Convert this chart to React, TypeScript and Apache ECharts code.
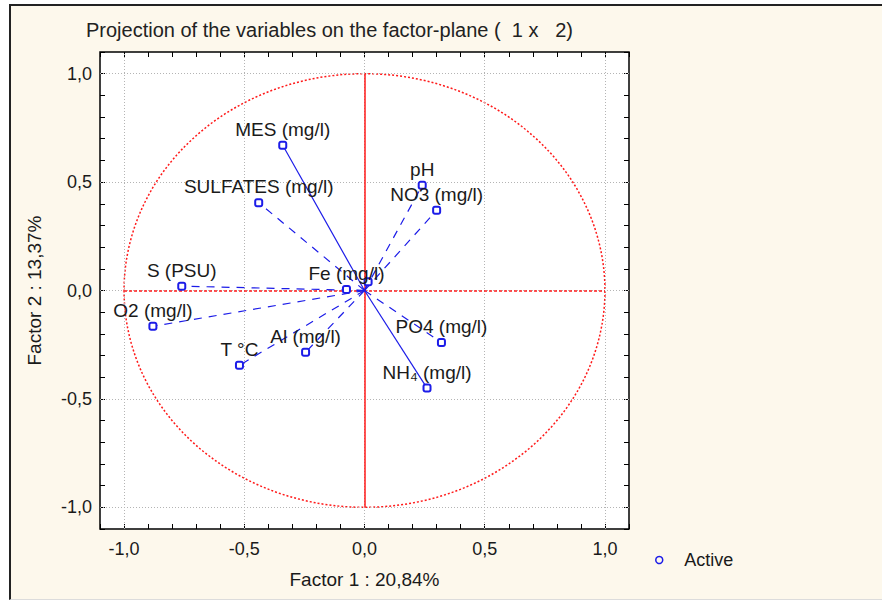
import React, { useEffect, useRef } from 'react';
import * as echarts from 'echarts';

// Variable loadings on factor 1 (x) and factor 2 (y)
const variableNames = [
  'MES (mg/l)',
  'SULFATES (mg/l)',
  'S (PSU)',
  'O2 (mg/l)',
  'T °C',
  'Al (mg/l)',
  'Fe (mg/l)',
  'pH',
  'NO3 (mg/l)',
  'PO4 (mg/l)',
  'NH₄ (mg/l)',
  '',
];
const factor1 = [-0.34, -0.44, -0.76, -0.88, -0.52, -0.245, -0.075, 0.24, 0.3, 0.32, 0.26, 0.015];
const factor2 = [0.67, 0.405, 0.02, -0.165, -0.345, -0.285, 0.005, 0.485, 0.37, -0.24, -0.45, 0.04];
const vectorStyles = [
  'solid', 'dashed', 'dashed', 'dashed', 'dashed', 'dashed',
  'dashed', 'dashed', 'dashed', 'dashed', 'solid', 'solid',
];
const gridTicks = [-1, -0.5, 0, 0.5, 1];
const unitRadius = 1;

const BLUE = '#1c1ce8';
const RED = '#ff1a1a';
const TEXT = '#1a1a1a';
const FONT = '"Liberation Sans", Arial, sans-serif';

function tickLabel(v: number): string {
  const r = Math.round(v * 10);
  if (r % 5 !== 0 || Math.abs(r) > 10) return '';
  return (r / 10).toFixed(1).replace('.', ',');
}

export default function App() {
  const ref = useRef<HTMLDivElement>(null);

  useEffect(() => {
    if (!ref.current) return;
    const chart = echarts.init(ref.current, null, { renderer: 'svg' });

    const vectorSeries = variableNames.map((name, i) => ({
      type: 'line',
      name: 'Active',
      z: 5,
      data: [
        { value: [0, 0], symbol: 'none' },
        {
          value: [factor1[i], factor2[i]],
          label: {
            show: name !== '',
            formatter: name,
            position: 'top',
            distance: 2,
            color: TEXT,
            fontSize: 19,
            fontFamily: FONT,
          },
        },
      ],
      symbol: 'emptyRoundRect',
      symbolSize: 7,
      showSymbol: true,
      itemStyle: { color: BLUE, borderColor: BLUE, borderWidth: 1.5 },
      lineStyle: {
        color: BLUE,
        width: 1.2,
        type: vectorStyles[i] === 'dashed' ? [8, 7] : 'solid',
      },
      emphasis: { disabled: true },
      silent: true,
    }));

    const axisCommon = {
      type: 'value',
      min: -1.1,
      max: 1.1,
      interval: 0.1,
      axisLine: { show: false, onZero: false },
      axisTick: { show: true, inside: true, length: 5, lineStyle: { color: '#000', width: 1 } },
      splitLine: { show: false },
    };

    chart.setOption({
      animation: false,
      title: {
        text: 'Projection of the variables on the factor-plane (  1 x   2)',
        left: 81,
        top: 15,
        textStyle: { fontSize: 20, fontWeight: 'normal', color: '#222', fontFamily: FONT },
      },
      legend: {
        data: [
          {
            name: 'Active',
            icon: 'circle',
            itemStyle: { color: 'transparent', borderColor: BLUE, borderWidth: 1.5 },
          },
        ],
        left: 650,
        top: 546,
        itemWidth: 40,
        itemHeight: 7,
        textStyle: { fontSize: 18, color: TEXT, fontFamily: FONT },
        selectedMode: false,
      },
      grid: {
        left: 100,
        top: 52,
        width: 529,
        height: 477,
        show: true,
        backgroundColor: '#ffffff',
        borderColor: '#000',
        borderWidth: 1.5,
      },
      xAxis: [
        {
          ...axisCommon,
          position: 'bottom',
          name: 'Factor 1 : 20,84%',
          nameLocation: 'middle',
          nameGap: 41,
          nameTextStyle: { fontSize: 19, color: TEXT, fontFamily: FONT },
          axisLabel: { formatter: tickLabel, fontSize: 18, color: TEXT, margin: 11, fontFamily: FONT },
        },
        {
          ...axisCommon,
          position: 'top',
          axisLabel: { show: false },
        },
      ],
      yAxis: [
        {
          ...axisCommon,
          position: 'left',
          name: 'Factor 2 : 13,37%',
          nameLocation: 'middle',
          nameGap: 56,
          nameTextStyle: { fontSize: 19, color: TEXT, fontFamily: FONT },
          axisLabel: { formatter: tickLabel, fontSize: 18, color: TEXT, margin: 8, fontFamily: FONT },
        },
        {
          ...axisCommon,
          position: 'right',
          axisLabel: { show: false },
        },
      ],
      series: [
        {
          // dotted reference grid at the labelled ticks
          type: 'scatter',
          data: [],
          silent: true,
          z: 1,
          markLine: {
            silent: true,
            symbol: ['none', 'none'],
            label: { show: false },
            lineStyle: { color: '#b4b4b4', type: [1, 2], width: 1 },
            emphasis: { disabled: true },
            data: [
              ...gridTicks.map((v) => ({ xAxis: v })),
              ...gridTicks.map((v) => ({ yAxis: v })),
            ],
          },
        },
        {
          // unit correlation circle and its two diameters
          type: 'custom',
          data: [[0, 0]],
          silent: true,
          clip: false,
          z: 2,
          renderItem: (_params: any, api: any) => {
            const c = api.coord([api.value(0), api.value(1)]);
            const s = api.size([unitRadius, unitRadius]);
            const rx = s[0];
            const ry = s[1];
            return {
              type: 'path',
              shape: {
                pathData: `M0 1 A1 1 0 1 0 2 1 A1 1 0 1 0 0 1 Z`,
                x: c[0] - rx,
                y: c[1] - ry,
                width: 2 * rx,
                height: 2 * ry,
                layout: 'cover',
              },
              style: { fill: 'none', stroke: RED, lineWidth: 1.5, lineDash: [2, 2] },
            };
          },
          markLine: {
            silent: true,
            symbol: ['none', 'none'],
            label: { show: false },
            emphasis: { disabled: true },
            data: [
              [
                { coord: [0, -unitRadius], lineStyle: { color: RED, type: 'solid', width: 1.5 } },
                { coord: [0, unitRadius] },
              ],
              [
                { coord: [-unitRadius, 0], lineStyle: { color: RED, type: [3, 2], width: 1.5 } },
                { coord: [unitRadius, 0] },
              ],
            ],
          },
        },
        ...vectorSeries,
      ],
    });

    return () => chart.dispose();
  }, []);

  return (
    <div style={{ position: 'fixed', left: 0, top: 0, width: 882, height: 601, background: '#ffffff' }}>
      <div
        style={{
          position: 'absolute',
          left: 9,
          top: 4,
          right: 0,
          bottom: 1,
          background: '#fdf8ec',
          borderTop: '2px solid #222',
          borderLeft: '2px solid #222',
          borderBottom: '1px solid #dcdcdc',
        }}
      />
      <div ref={ref} style={{ position: 'absolute', left: 0, top: 0, width: 882, height: 601 }} />
    </div>
  );
}
